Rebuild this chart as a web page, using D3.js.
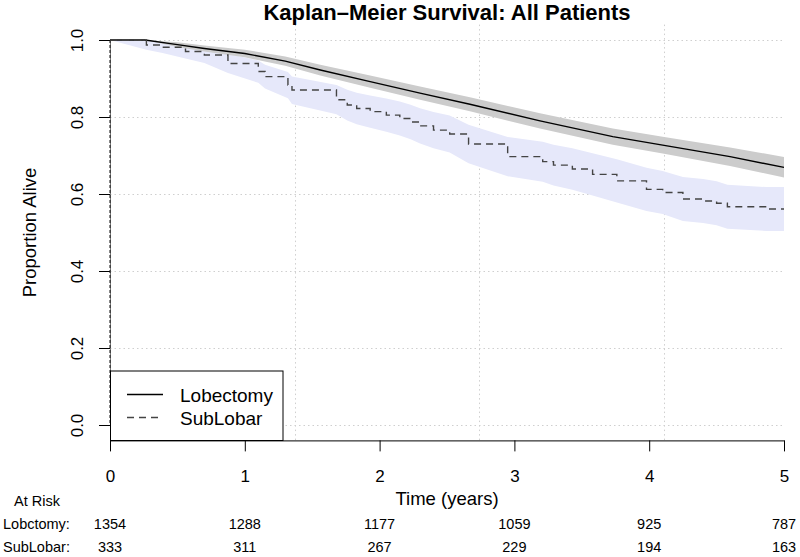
<!DOCTYPE html>
<html><head><meta charset="utf-8">
<script src="https://cdn.jsdelivr.net/npm/d3@7"></script>
<style>
body{margin:0;background:#fff}
svg{display:block}
text{font-family:"Liberation Sans",Arial,Helvetica,sans-serif;fill:#000}
</style>
</head><body>
<svg id="chart" width="800" height="557"></svg>
<script>
// ---- data ----
const lobTime  = [0, 0.26, 0.5, 0.7, 1.0, 1.3, 1.56, 1.93, 2.3, 2.67, 3.19, 3.73, 4.1, 4.6, 5.0];
const lobSurv  = [1, 1, 0.988, 0.978, 0.965, 0.945, 0.922, 0.892, 0.862, 0.833, 0.790, 0.749, 0.727, 0.697, 0.669];
const lobLower = [1, 1, 0.982, 0.970, 0.955, 0.933, 0.908, 0.876, 0.845, 0.815, 0.770, 0.728, 0.705, 0.673, 0.643];
const lobUpper = [1, 1, 0.994, 0.986, 0.975, 0.957, 0.936, 0.908, 0.879, 0.851, 0.810, 0.770, 0.749, 0.721, 0.696];

const subTime  = [0, 0.27, 0.39, 0.56, 0.70, 0.875, 1.10, 1.15, 1.32, 1.35, 1.68, 1.76, 1.83, 1.93, 2.05, 2.15, 2.23, 2.30, 2.40, 2.52, 2.66, 2.95, 3.21, 3.29, 3.43, 3.58, 3.76, 3.98, 4.10, 4.25, 4.40, 4.50, 4.58, 4.87, 5.00];
const subSurv  = [1.000, 0.987, 0.981, 0.970, 0.961, 0.939, 0.918, 0.905, 0.883, 0.870, 0.845, 0.831, 0.822, 0.814, 0.805, 0.796, 0.787, 0.777, 0.766, 0.756, 0.730, 0.697, 0.684, 0.675, 0.665, 0.651, 0.634, 0.612, 0.604, 0.587, 0.582, 0.576, 0.567, 0.561, 0.561];
const subLower = [1.000, 0.975, 0.966, 0.952, 0.940, 0.914, 0.889, 0.874, 0.849, 0.834, 0.807, 0.791, 0.781, 0.772, 0.762, 0.752, 0.742, 0.731, 0.719, 0.708, 0.680, 0.646, 0.632, 0.622, 0.611, 0.596, 0.578, 0.556, 0.548, 0.530, 0.525, 0.519, 0.510, 0.504, 0.504];
const subUpper = [1.000, 0.999, 0.995, 0.988, 0.981, 0.964, 0.947, 0.936, 0.917, 0.905, 0.883, 0.871, 0.863, 0.856, 0.848, 0.840, 0.832, 0.823, 0.813, 0.804, 0.780, 0.748, 0.736, 0.728, 0.719, 0.706, 0.690, 0.668, 0.660, 0.644, 0.639, 0.633, 0.624, 0.618, 0.618];

const xTicks = [0, 1, 2, 3, 4, 5];
const yTicks = [0, 0.2, 0.4, 0.6, 0.8, 1.0];
const gridYears = [1.369, 2.738, 4.107];
const legendLabels = ["Lobectomy", "SubLobar"];
const riskRowLabels = ["Lobctomy:", "SubLobar:"];
const riskLob = [1354, 1288, 1177, 1059, 925, 787];
const riskSub = [333, 311, 267, 229, 194, 163];
const titleText = "Kaplan\u2013Meier Survival: All Patients";

// ---- build ----
const svg = d3.select("#chart");
const x = d3.scaleLinear().domain([0, 5]).range([110, 784]);
const y = d3.scaleLinear().domain([0, 1]).range([425, 40]);

const lob = lobTime.map((t, i) => ({t, s: lobSurv[i], lo: lobLower[i], hi: lobUpper[i]}));
const sub = subTime.map((t, i) => ({t, s: subSurv[i], lo: subLower[i], hi: subUpper[i]}));

// grid
const grid = svg.append("g").attr("stroke", "#cfcfcf").attr("stroke-width", 1).attr("stroke-dasharray", "1.5,3");
grid.selectAll("line.h").data(yTicks).join("line")
  .attr("x1", x(0)).attr("x2", x(5))
  .attr("y1", d => Math.round(y(d)) + 0.5).attr("y2", d => Math.round(y(d)) + 0.5);
grid.selectAll("line.v").data(gridYears).join("line")
  .attr("x1", d => Math.round(x(d)) + 0.5).attr("x2", d => Math.round(x(d)) + 0.5)
  .attr("y1", y(1.04)).attr("y2", y(-0.04));

// bands
svg.append("path").datum(sub)
  .attr("fill", "#e6e8fa")
  .attr("d", d3.area().x(d => x(d.t)).y0(d => y(d.lo)).y1(d => y(d.hi)));
svg.append("path").datum(lob)
  .attr("fill", "#cccccc")
  .attr("d", d3.area().x(d => x(d.t)).y0(d => y(d.lo)).y1(d => y(d.hi)));

// curves
svg.append("path").datum(lob)
  .attr("fill", "none").attr("stroke", "#000").attr("stroke-width", 1.4)
  .attr("d", d3.line().x(d => x(d.t)).y(d => y(d.s)));
svg.append("path").datum(sub)
  .attr("fill", "none").attr("stroke", "#444").attr("stroke-width", 1.4)
  .attr("stroke-dasharray", "7,5")
  .attr("d", d3.line().curve(d3.curveStepAfter).x(d => x(d.t)).y(d => y(d.s)));

// axes
const tickFont = "17px";
const xAxis = svg.append("g").attr("transform", `translate(0,${y(-0.04)})`)
  .call(d3.axisBottom(x).tickValues(xTicks).tickSize(11).tickSizeOuter(0).tickFormat(d3.format("d")));
xAxis.select(".domain").attr("stroke", "#000");
xAxis.selectAll(".tick line").attr("stroke", "#000");
xAxis.selectAll("text").attr("y", 42).attr("dy", null).style("font-size", tickFont)
  .style("font-family", '"Liberation Sans",Arial,sans-serif');

const yAxis = svg.append("g").attr("transform", `translate(${x(0)},0)`)
  .call(d3.axisLeft(y).tickValues(yTicks).tickSize(11).tickSizeOuter(0).tickFormat(d3.format(".1f")));
yAxis.select(".domain").attr("stroke", "#777");
yAxis.selectAll(".tick line").attr("stroke", "#000");
yAxis.selectAll("text").attr("transform", "rotate(-90)").attr("x", 0).attr("y", -27).attr("dy", null)
  .attr("text-anchor", "middle").style("font-size", tickFont)
  .style("font-family", '"Liberation Sans",Arial,sans-serif');

// dashed vertical at time 0
svg.append("line")
  .attr("x1", x(0)).attr("x2", x(0)).attr("y1", y(1)).attr("y2", y(0))
  .attr("stroke", "#111").attr("stroke-width", 1).attr("stroke-dasharray", "3,2");

// title and axis titles
svg.append("text").attr("x", (x(0) + x(5)) / 2).attr("y", 20).attr("text-anchor", "middle")
  .style("font-size", "22px").style("font-weight", "bold").text(titleText);
svg.append("text").attr("x", (x(0) + x(5)) / 2).attr("y", 505).attr("text-anchor", "middle")
  .style("font-size", "18.5px").text("Time (years)");
svg.append("text").attr("transform", `translate(36,${y(0.5)}) rotate(-90)`).attr("text-anchor", "middle")
  .style("font-size", "18.5px").text("Proportion Alive");

// legend
const lg = svg.append("g");
lg.append("rect").attr("x", 110.5).attr("y", 371).attr("width", 172.5).attr("height", 69.5)
  .attr("fill", "#fff").attr("stroke", "#000").attr("stroke-width", 1);
const legendDash = [null, "7,5"];
const legendStroke = ["#000", "#444"];
legendLabels.forEach((lab, i) => {
  const ly = 394.5 + i * 23;
  lg.append("line").attr("x1", 127).attr("x2", 163).attr("y1", ly).attr("y2", ly)
    .attr("stroke", legendStroke[i]).attr("stroke-width", 1.4).attr("stroke-dasharray", legendDash[i]);
  lg.append("text").attr("x", 180).attr("y", ly + 7.5).style("font-size", "19px").text(lab);
});

// at-risk table
svg.append("text").attr("x", 14).attr("y", 506).style("font-size", "14.5px").text("At Risk");
[riskLob, riskSub].forEach((row, r) => {
  const ry = 529 + r * 23;
  svg.append("text").attr("x", 3).attr("y", ry).style("font-size", "14.5px").text(riskRowLabels[r]);
  svg.append("g").selectAll("text").data(row).join("text")
    .attr("x", (d, i) => x(xTicks[i])).attr("y", ry).attr("text-anchor", "middle")
    .style("font-size", "14.5px").text(d => d);
});
</script>
</body></html>
